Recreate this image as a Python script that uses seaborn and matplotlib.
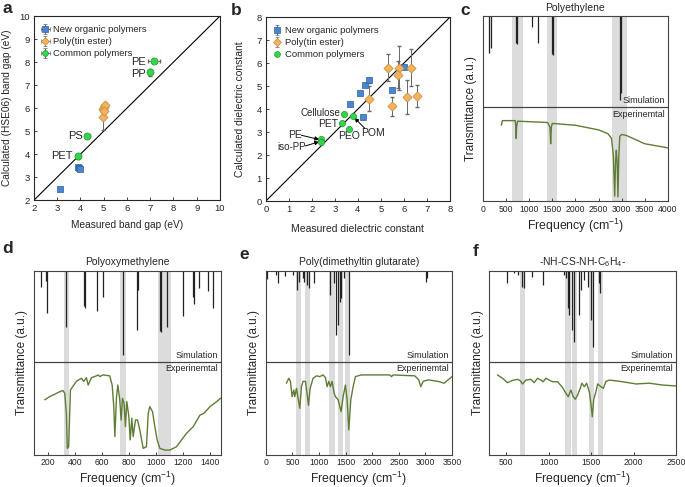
import numpy as np
import pandas as pd
import matplotlib
matplotlib.use("Agg")
import matplotlib.pyplot as plt
import seaborn as sns

# ---------------- data: panel a (band gap) ----------------
a_new_x = [3.1, 3.9, 3.95, 4.0]
a_new_y = [2.5, 3.45, 3.4, 3.35]
a_new_err = [0.05, 0.05, 0.05, 0.05]
a_tin_x = [4.98, 4.95, 5.0, 5.05, 5.0]
a_tin_y = [5.6, 5.95, 6.05, 6.12, 5.88]
a_tin_err = [0.55, 0.1, 0.1, 0.1, 0.1]
a_com_x = [7.15, 7.0, 4.3, 3.9]
a_com_y = [8.05, 7.55, 4.8, 3.9]
a_com_xerr = [0.25, 0.05, 0.1, 0.05]
a_com_yerr = [0.05, 0.15, 0.05, 0.1]
a_com_labels = ["PE", "PP", "PS", "PET"]

# ---------------- data: panel b (dielectric constant) ----------------
b_new_x = [3.65, 4.1, 4.3, 4.5, 4.2, 5.5, 6.0]
b_new_y = [4.2, 4.7, 5.05, 5.25, 3.65, 4.85, 5.85]
b_new_err = [0.05, 0.05, 0.05, 0.12, 0.05, 0.05, 0.05]
b_tin_x = [4.5, 5.3, 5.8, 5.75, 6.3, 5.5, 6.15, 6.55]
b_tin_y = [4.45, 5.8, 5.8, 5.5, 5.8, 4.12, 4.52, 4.55]
b_tin_err = [0.55, 0.6, 0.95, 0.6, 0.8, 0.4, 0.75, 0.48]
b_com_x = [3.4, 3.8, 3.3, 3.6, 2.4, 2.4]
b_com_y = [3.8, 3.7, 3.38, 3.15, 2.68, 2.58]
b_com_labels = ["Cellulose", "POM", "PET", "PEO", "PE", "iso-PP"]

# ---------------- data: panel c (Polyethylene) ----------------
c_stick_f = [122, 165, 725, 740, 1070, 1200, 1500, 1515, 2960, 2995]
c_stick_end = [0.798, 0.83, 0.856, 0.85, 0.942, 0.856, 0.795, 0.79, 0.546, 0.582]
c_bands = [(632, 862), (1386, 1601), (2786, 3124)]
c_exp_f = [400, 420, 700, 712, 720, 728, 750, 1400, 1450, 1465, 1480, 1500, 2000, 2500,
           2700, 2780, 2820, 2850, 2870, 2885, 2905, 2920, 2940, 2960, 3000, 3100, 3500, 4000]
c_exp_t = [0.41, 0.435, 0.435, 0.40, 0.339, 0.40, 0.432, 0.425, 0.40, 0.31, 0.40, 0.42, 0.41, 0.385,
           0.365, 0.34, 0.25, 0.027, 0.22, 0.275, 0.20, 0.023, 0.25, 0.35, 0.36, 0.355, 0.31, 0.288]

# ---------------- data: panel d (Polyoxymethylene) ----------------
d_stick_f = [149, 191, 199, 339, 467, 477, 568, 608, 760, 857, 864, 1029, 1039, 1078,
             1197, 1275, 1283, 1320, 1386, 1418]
d_stick_end = [0.911, 0.946, 0.774, 0.694, 0.812, 0.797, 0.784, 0.86, 0.543, 0.679, 0.897,
               0.674, 0.67, 0.694, 0.755, 0.86, 0.82, 0.906, 0.893, 0.797]
d_bands = [(322, 356), (738, 777), (1017, 1110)]
d_exp_f = [179, 216, 253, 290, 314, 327, 339, 346, 356, 369, 413, 450, 467, 487, 500, 524,
           561, 574, 586, 610, 659, 677, 689, 697, 709, 719, 733, 743, 753, 765, 775, 785,
           800, 810, 822, 832, 849, 864, 881, 906, 930, 943, 955, 975, 992, 1009, 1029, 1066,
           1103, 1152, 1189, 1226, 1275, 1325, 1354, 1399, 1448, 1477]
d_exp_t = [0.30, 0.317, 0.33, 0.344, 0.35, 0.335, 0.226, 0.036, 0.045, 0.353, 0.40, 0.417,
           0.40, 0.42, 0.38, 0.42, 0.43, 0.435, 0.426, 0.435, 0.43, 0.38, 0.263, 0.10, 0.317,
           0.38, 0.30, 0.19, 0.308, 0.28, 0.154, 0.29, 0.21, 0.082, 0.20, 0.10, 0.19, 0.19,
           0.136, 0.036, 0.045, 0.226, 0.263, 0.235, 0.154, 0.082, 0.036, 0.027, 0.027, 0.045,
           0.082, 0.118, 0.154, 0.217, 0.226, 0.263, 0.29, 0.308]

# ---------------- data: panel e (Poly(dimethyltin glutarate)) ----------------
e_stick_f = [31, 188, 232, 357, 513, 595, 620, 701, 720, 783, 808, 908, 1202, 1284, 1327,
             1359, 1390, 1409, 1471, 1559, 3018, 3037]
e_stick_end = [0.955, 0.978, 0.933, 0.973, 0.978, 0.897, 0.942, 0.96, 0.942, 0.924, 0.906,
               0.937, 0.87, 0.933, 0.652, 0.707, 0.833, 0.851, 0.96, 0.543, 0.942, 0.96]
e_bands = [(564, 657), (739, 833), (1196, 1296), (1359, 1453), (1490, 1590)]
e_exp_f = [388, 432, 463, 495, 526, 545, 576, 607, 639, 670, 701, 745, 783, 802, 833, 889,
           952, 1014, 1077, 1121, 1152, 1184, 1215, 1246, 1284, 1309, 1359, 1390, 1415, 1453,
           1496, 1528, 1559, 1597, 1641, 1684, 1797, 2110, 2329, 2361, 2392, 2799, 2874, 2912,
           2956, 3050, 3237, 3350, 3500]
e_exp_t = [0.39, 0.417, 0.40, 0.317, 0.353, 0.317, 0.362, 0.308, 0.254, 0.371, 0.40, 0.40,
           0.317, 0.27, 0.362, 0.417, 0.43, 0.426, 0.435, 0.42, 0.371, 0.40, 0.371, 0.40,
           0.335, 0.317, 0.30, 0.263, 0.235, 0.317, 0.38, 0.30, 0.136, 0.30, 0.371, 0.426,
           0.435, 0.435, 0.435, 0.426, 0.435, 0.43, 0.408, 0.371, 0.40, 0.408, 0.40, 0.39, 0.426]

# ---------------- data: panel f (-NH-CS-NH-C6H4-) ----------------
f_stick_f = [516, 595, 642, 693, 705, 803, 940, 1184, 1204, 1223, 1235, 1274, 1302, 1353,
             1380, 1420, 1459, 1498, 1518, 1589, 1605]
f_stick_end = [0.933, 0.987, 0.978, 0.915, 0.906, 0.969, 0.924, 0.978, 0.96, 0.797, 0.761,
               0.679, 0.616, 0.761, 0.897, 0.951, 0.915, 0.734, 0.589, 0.933, 0.879]
f_bands = [(661, 720), (1196, 1263), (1270, 1329), (1471, 1538), (1577, 1636)]
f_exp_f = [398, 457, 516, 575, 634, 665, 693, 733, 791, 830, 870, 909, 937, 968, 1007, 1046,
           1105, 1157, 1204, 1231, 1263, 1290, 1314, 1341, 1368, 1392, 1420, 1447, 1479, 1498,
           1514, 1530, 1557, 1577, 1616, 1644, 1675, 1715, 1872, 2029, 2186, 2343, 2500]
f_exp_t = [0.435, 0.417, 0.393, 0.405, 0.411, 0.404, 0.386, 0.407, 0.411, 0.393, 0.417,
           0.407, 0.398, 0.417, 0.407, 0.398, 0.398, 0.371, 0.335, 0.317, 0.353, 0.317, 0.303,
           0.326, 0.357, 0.39, 0.371, 0.39, 0.344, 0.28, 0.208, 0.30, 0.344, 0.386, 0.371,
           0.362, 0.40, 0.407, 0.398, 0.386, 0.39, 0.38, 0.375]

# ---------------- style ----------------
sns.set_theme(style="ticks")
plt.rcParams["font.family"] = ["Liberation Sans", "DejaVu Sans"]
plt.rcParams["mathtext.fontset"] = "custom"
plt.rcParams["mathtext.rm"] = "Liberation Sans"
plt.rcParams["mathtext.it"] = "Liberation Sans:italic"
plt.rcParams["mathtext.default"] = "regular"
plt.rcParams["axes.linewidth"] = 0.8
plt.rcParams["xtick.direction"] = "in"
plt.rcParams["ytick.direction"] = "in"

BLUE, BLUE_E = "#4a86d0", "#2d5f9e"
ORANGE, ORANGE_E = "#f2b35e", "#c7893a"
GREEN, GREEN_E = "#33d64a", "#1f9a2e"
ERR = "#666666"
LINE_C = "#5f7d35"
BAND_C = "#dcdcdc"

fig = plt.figure(figsize=(6.85, 4.87), dpi=100)

ax_a = fig.add_axes([0.0496, 0.589, 0.2715, 0.378])
ax_b = fig.add_axes([0.388, 0.587, 0.269, 0.378])
ax_c = fig.add_axes([0.705, 0.587, 0.270, 0.380])
ax_d = fig.add_axes([0.0496, 0.0657, 0.273, 0.378])
ax_e = fig.add_axes([0.388, 0.0657, 0.272, 0.378])
ax_f = fig.add_axes([0.714, 0.0657, 0.273, 0.378])


def points(ax, x, y, marker, fc, ec, size):
    sns.scatterplot(x=x, y=y, marker=marker, color=fc, edgecolor=ec, linewidth=0.5,
                    s=size, ax=ax, legend=False, zorder=4)


def legend_proxies(ax, with_xerr):
    specs = [("New organic polymers", "s", BLUE, BLUE_E, True),
             ("Poly(tin ester)", "D", ORANGE, ORANGE_E, True),
             ("Common polymers", "o", GREEN, GREEN_E, with_xerr)]
    for lab, m, fc, ec, err in specs:
        ax.errorbar([np.nan], [np.nan], yerr=[0.1] if err else None,
                    xerr=[0.1] if (err and with_xerr) else None,
                    fmt=m, mfc=fc, mec=ec, mew=0.5, ms=4.2 if m != "D" else 3.8,
                    ecolor=ERR, elinewidth=0.7, capsize=1.5, label=lab)
    ax.legend(loc="upper left", frameon=False, fontsize=6.8, handletextpad=0.3,
              handlelength=1.0, borderaxespad=0.3, labelspacing=0.32,
              bbox_to_anchor=(0.0, 0.985))


# ---------------- panel a ----------------
ax = ax_a
ax.plot([2, 10], [2, 10], color="black", lw=0.8, zorder=1)
ax.errorbar(a_new_x, a_new_y, yerr=a_new_err, fmt="none", ecolor=ERR, elinewidth=0.7, capsize=1.5)
ax.errorbar(a_tin_x, a_tin_y, yerr=a_tin_err, fmt="none", ecolor=ERR, elinewidth=0.7, capsize=1.5)
ax.errorbar(a_com_x, a_com_y, xerr=a_com_xerr, yerr=a_com_yerr, fmt="none", ecolor=ERR,
            elinewidth=0.7, capsize=1.5)
points(ax, a_new_x, a_new_y, "s", BLUE, BLUE_E, 24)
points(ax, a_tin_x, a_tin_y, "D", ORANGE, ORANGE_E, 22)
points(ax, a_com_x, a_com_y, "o", GREEN, GREEN_E, 26)
a_lab_pos = {"PE": (6.82, 8.02), "PP": (6.82, 7.5), "PS": (4.12, 4.8), "PET": (3.68, 3.9)}
for lab in a_com_labels:
    px, py = a_lab_pos[lab]
    ax.text(px, py, lab, ha="right", va="center", fontsize=8)
legend_proxies(ax, True)
ax.set_xlim(2, 10)
ax.set_ylim(2, 10)
ax.set_xticks(range(2, 11))
ax.set_yticks(range(2, 11))
ax.set_xlabel("Measured band gap (eV)", fontsize=7.3, labelpad=5)
ax.set_ylabel("Calculated (HSE06) band gap (eV)", fontsize=7.3, labelpad=5)

# ---------------- panel b ----------------
ax = ax_b
ax.plot([0, 8], [0, 8], color="black", lw=0.8, zorder=1)
ax.errorbar(b_new_x, b_new_y, yerr=b_new_err, fmt="none", ecolor=ERR, elinewidth=0.7, capsize=1.5)
ax.errorbar(b_tin_x, b_tin_y, yerr=b_tin_err, fmt="none", ecolor=ERR, elinewidth=0.7, capsize=1.5)
points(ax, b_new_x, b_new_y, "s", BLUE, BLUE_E, 22)
points(ax, b_tin_x, b_tin_y, "D", ORANGE, ORANGE_E, 22)
points(ax, b_com_x, b_com_y, "o", GREEN, GREEN_E, 20)
b_text = {"Cellulose": (3.22, 3.82, "right", 7), "PET": (3.15, 3.36, "right", 7.5),
          "PEO": (3.62, 2.85, "center", 7.5), "POM": (4.65, 2.98, "center", 7.5),
          "PE": (1.25, 2.88, "center", 7.5), "iso-PP": (1.12, 2.36, "center", 7)}
b_arrow = {"POM": (4.3, 3.16), "PE": (1.55, 2.86), "iso-PP": (1.72, 2.40)}
for lab, x0, y0 in zip(b_com_labels, b_com_x, b_com_y):
    tx, ty, ha, fs = b_text[lab]
    ax.text(tx, ty, lab, ha=ha, va="center", fontsize=fs)
    if lab in b_arrow:
        sx, sy = b_arrow[lab]
        tip = (x0 + 0.05, y0 - 0.08) if lab == "POM" else (x0 - 0.08, y0)
        ax.annotate("", xy=tip, xytext=(sx, sy),
                    arrowprops=dict(arrowstyle="-|>", color="black", lw=0.7,
                                    mutation_scale=6, shrinkA=0, shrinkB=0))
legend_proxies(ax, False)
ax.set_xlim(0, 8)
ax.set_ylim(0, 8)
ax.set_xticks(range(0, 9))
ax.set_yticks(range(0, 9))
ax.set_xlabel("Measured dielectric constant", fontsize=7.5, labelpad=7)
ax.set_ylabel("Calculated dielectric constant", fontsize=7.5, labelpad=8)

for ax in (ax_a, ax_b):
    ax.tick_params(labelsize=6.8, length=2.5, width=0.6, pad=3)

# ---------------- spectra ----------------
MID = 0.506


def spectrum(ax, title, xlim, xticks, bands, sf, se, ef, et):
    for lo, hi in bands:
        ax.axvspan(lo, hi, color=BAND_C, lw=0, zorder=0)
    ax.vlines(sf, se, 1.0, colors="#222222", lw=0.9, zorder=2)
    ax.axhline(MID, color="#444444", lw=0.9, zorder=3)
    df = pd.DataFrame({"freq": ef, "trans": et})
    sns.lineplot(data=df, x="freq", y="trans", sort=False, color=LINE_C, lw=1.0,
                 ax=ax, zorder=4, estimator=None)
    ax.set_xlim(*xlim)
    ax.set_ylim(0, 1)
    ax.set_xticks(xticks)
    ax.set_yticks([])
    ax.tick_params(axis="x", labelsize=6.2, length=2.5, width=0.6, pad=2.5)
    ax.set_title(title, fontsize=7.5, pad=4)
    ax.set_xlabel("Frequency (cm$^{-1}$)", fontsize=8.8, labelpad=2)
    ax.set_ylabel("Transmittance (a.u.)", fontsize=8.5, labelpad=4)
    xr = xlim[1] - (xlim[1] - xlim[0]) * 0.015
    ax.text(xr, MID + 0.012, "Simulation", ha="right", va="bottom", fontsize=6.5)
    ax.text(xr, MID - 0.012, "Experinemtal", ha="right", va="top", fontsize=6.5)
    for s in ax.spines.values():
        s.set_color("#444444")


spectrum(ax_c, "Polyethylene", (0, 4000), range(0, 4001, 500), c_bands,
         c_stick_f, c_stick_end, c_exp_f, c_exp_t)
spectrum(ax_d, "Polyoxymethylene", (100, 1480), range(200, 1401, 200), d_bands,
         d_stick_f, d_stick_end, d_exp_f, d_exp_t)
spectrum(ax_e, "Poly(dimethyltin glutarate)", (0, 3500), range(0, 3501, 500), e_bands,
         e_stick_f, e_stick_end, e_exp_f, e_exp_t)
spectrum(ax_f, "-NH-CS-NH-C$_6$H$_4$-", (300, 2500), range(500, 2501, 500), f_bands,
         f_stick_f, f_stick_end, f_exp_f, f_exp_t)

# ---------------- panel letters ----------------
for lab, x, y in [("a", 0.003, 0.997), ("b", 0.337, 0.994), ("c", 0.672, 0.994),
                  ("d", 0.003, 0.505), ("e", 0.350, 0.492), ("f", 0.690, 0.500)]:
    fig.text(x, y, lab, fontsize=12.5, fontweight="bold", ha="left", va="top")

fig.savefig("out.png", dpi=100)
